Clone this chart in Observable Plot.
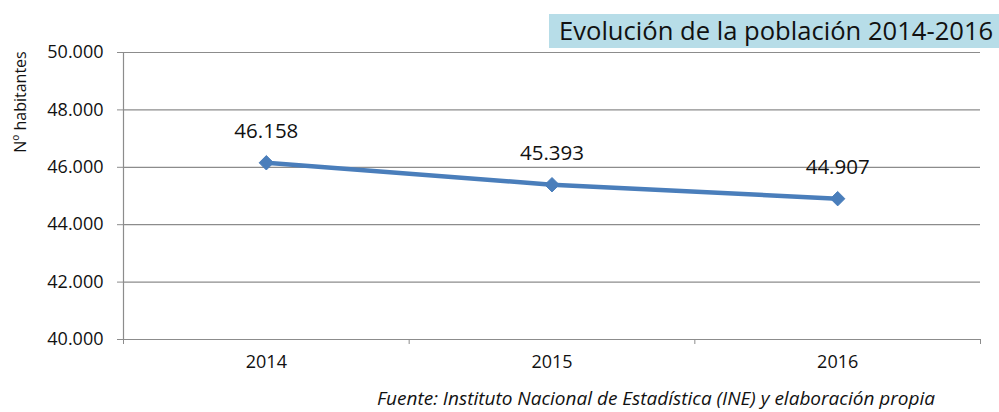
<!DOCTYPE html>
<html><head><meta charset="utf-8">
<script src="https://cdn.jsdelivr.net/npm/d3@7"></script>
<script src="https://cdn.jsdelivr.net/npm/@observablehq/plot@0.6"></script>
<style>
html,body{margin:0;padding:0;background:#fff;}
#wrap{position:relative;width:999px;height:412px;font-family:"Open Sans",sans-serif;}
#title{position:absolute;left:549px;top:14px;width:450px;height:34px;background:#b7dde8;color:#111;font-size:25.6px;line-height:34px;box-sizing:border-box;padding-left:10px;white-space:nowrap;}
#ytitle{position:absolute;left:20px;top:102px;transform:translate(-50%,-50%) rotate(-90deg);font-size:16px;color:#111;white-space:nowrap;}
#caption{position:absolute;right:64px;top:387px;font-size:19px;font-style:italic;color:#111;white-space:nowrap;line-height:22px;}
</style></head>
<body><div id="wrap"><div id="chart"></div>
<div id="title">Evolución de la población 2014-2016</div>
<div id="ytitle">Nº habitantes</div>
<div id="caption">Fuente: Instituto Nacional de Estadística (INE) y elaboración propia</div>
</div>
<script>
const years = ["2014", "2015", "2016"];
const poblacion = [46158, 45393, 44907];
const yTicks = [40000, 42000, 44000, 46000, 48000, 50000];

const es = d3.formatLocale({decimal: ",", thousands: ".", grouping: [3], currency: ["", " €"]});
const fmt = es.format(",.0f");
const data = years.map((y, i) => ({year: y, pos: i + 0.5, value: poblacion[i]}));
const boundaries = d3.range(years.length + 1);
const centers = years.map((_, i) => i + 0.5);

const chart = Plot.plot({
  width: 999, height: 412,
  marginLeft: 123, marginRight: 19, marginTop: 52, marginBottom: 73,
  style: {fontFamily: "'Open Sans', sans-serif", fontSize: "18px", color: "#111", background: "transparent"},
  x: {domain: [0, years.length], axis: null},
  y: {domain: [40000, 50000], axis: null},
  marks: [
    Plot.gridY(yTicks, {stroke: "#8c8c8c", strokeOpacity: 1, strokeWidth: 1.2}),
    Plot.axisY(yTicks, {tickFormat: fmt, tickSize: 6, tickPadding: 14, stroke: "#8c8c8c", fill: "#111", fontSize: 18, label: null}),
    Plot.ruleX([0], {y1: 40000, y2: 50000, stroke: "#8c8c8c", strokeWidth: 1.2}),
    Plot.ruleY([40000], {stroke: "#8c8c8c", strokeWidth: 1.2}),
    Plot.axisX(boundaries, {text: null, tickSize: 5, stroke: "#8c8c8c", label: null}),
    Plot.axisX(centers, {tickFormat: d => years[Math.floor(d)], tickSize: 0, tickPadding: 16, fill: "#111", fontSize: 18, label: null}),
    Plot.line(data, {x: "pos", y: "value", stroke: "#4a7ebb", strokeWidth: 4.5}),
    Plot.dot(data, {x: "pos", y: "value", symbol: "diamond2", fill: "#4a7ebb", stroke: "#4a7ebb", strokeWidth: 1, r: 6.5}),
    Plot.text(data, {x: "pos", y: "value", text: d => fmt(d.value), dy: -31, fontSize: 20.5, fill: "#111"})
  ]
});
document.getElementById("chart").appendChild(chart);
</script>
</body></html>
